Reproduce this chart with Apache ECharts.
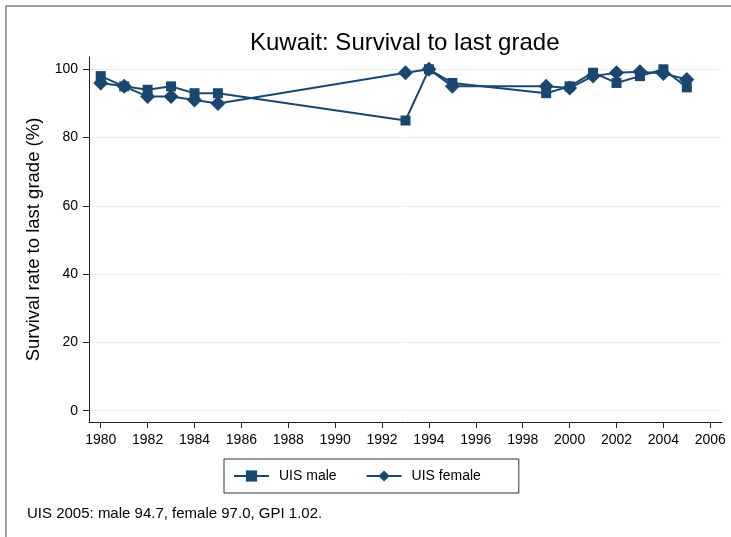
<!DOCTYPE html>
<html>
<head>
<meta charset="utf-8">
<script src="https://cdn.jsdelivr.net/npm/echarts@6/dist/echarts.min.js"></script>
<style>
  html, body { margin: 0; padding: 0; background: #fff; }
  #main { width: 731px; height: 537px; }
</style>
</head>
<body>
<div id="main"></div>
<script>
// survival rate to last grade, Kuwait (UIS)
const years = [1980, 1981, 1982, 1983, 1984, 1985, 1993, 1994, 1995, 1999, 2000, 2001, 2002, 2003, 2004, 2005];
const male = [98, 95, 94, 95, 93, 93, 85, 100, 96, 93, 95, 99, 96, 98, 100, 94.7];
const female = [96, 95, 92, 92, 91, 90, 99, 100, 95, 95, 94.5, 98, 99, 99.3, 98.8, 97];

const xTicks = [1980, 1982, 1984, 1986, 1988, 1990, 1992, 1994, 1996, 1998, 2000, 2002, 2004, 2006];
const yTicks = [0, 20, 40, 60, 80, 100];

const navy = "#1a476f";
const font = "'Liberation Sans', Arial, sans-serif";

function pairs(vals) {
  return years.map((y, i) => [y, vals[i]]);
}

let myChart = echarts.init(document.getElementById("main"));
let option = {
  animation: false,
  backgroundColor: "#fff",
  textStyle: { fontFamily: font },
  title: {
    text: "Kuwait: Survival to last grade",
    left: 245,
    top: 26,
    textStyle: { fontSize: 24, fontWeight: "normal", color: "#000", fontFamily: font }
  },
  grid: {
    left: 89,
    right: 9,
    top: 57,
    bottom: 115
  },
  legend: {
    left: 224,
    top: 459,
    padding: [10, 38, 10, 9],
    itemWidth: 35,
    itemHeight: 14,
    itemGap: 29,
    borderColor: "#333",
    borderWidth: 1,
    textStyle: { fontSize: 14, color: "#000", fontFamily: font, padding: [0, 0, 0, 5] },
    data: ["UIS male", "UIS female"]
  },
  xAxis: {
    type: "value",
    min: 1979.5,
    max: 2006.5,
    axisLine: { onZero: false, lineStyle: { color: "#222", width: 1 } },
    axisTick: { show: true, length: 6, lineStyle: { color: "#222" }, customValues: xTicks },
    axisLabel: { color: "#000", fontSize: 14, margin: 11, customValues: xTicks, formatter: (v) => String(v) },
    splitLine: { show: false }
  },
  yAxis: {
    type: "value",
    min: -3.3,
    max: 103.6,
    name: "Survival rate to last grade (%)",
    nameLocation: "middle",
    nameGap: 42,
    nameTextStyle: { fontSize: 18.5, color: "#000", fontFamily: font },
    axisLine: { show: true, onZero: false, lineStyle: { color: "#222", width: 1 } },
    axisTick: { show: true, length: 6, lineStyle: { color: "#222" }, customValues: yTicks },
    axisLabel: { color: "#000", fontSize: 14, margin: 11, customValues: yTicks },
    splitLine: { show: true, lineStyle: { color: "#e8eff2", width: 1 } }
  },
  graphic: [
    {
      type: "rect",
      shape: { x: 6, y: 6, width: 900, height: 700 },
      style: { fill: "none", stroke: "#808080", lineWidth: 1.5 },
      silent: true
    },
    {
      type: "text",
      left: 27,
      top: 506,
      style: {
        text: "UIS 2005: male 94.7, female 97.0, GPI 1.02.",
        fontSize: 15,
        fontFamily: font,
        fill: "#000"
      }
    }
  ],
  series: [
    {
      name: "UIS male",
      type: "line",
      data: pairs(male),
      symbol: "rect",
      symbolSize: 10,
      color: navy,
      lineStyle: { color: navy, width: 2 },
      itemStyle: { color: navy }
    },
    {
      name: "UIS female",
      type: "line",
      data: pairs(female),
      symbol: "diamond",
      symbolSize: 15,
      color: navy,
      lineStyle: { color: navy, width: 2 },
      itemStyle: { color: navy }
    }
  ]
};
myChart.setOption(option);
</script>
</body>
</html>
